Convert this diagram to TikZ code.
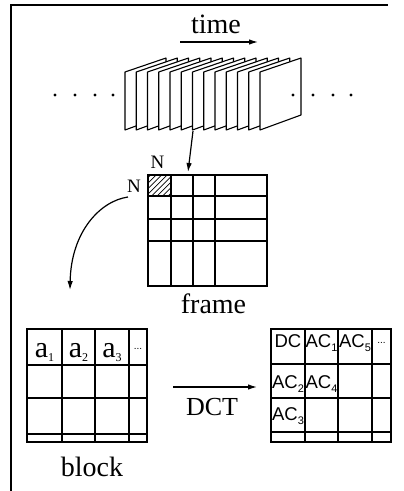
\documentclass[tikz,border=0pt]{standalone}
\usepackage{fontspec}
\setmainfont{Liberation Serif}
\setsansfont{Liberation Sans}
\usetikzlibrary{arrows.meta}
\newcommand{\sersub}[1]{\raisebox{-4pt}{\fontsize{12}{12}\selectfont #1}}
\newcommand{\sanssub}[1]{\raisebox{-4pt}{\fontsize{11}{11}\selectfont #1}}
\begin{document}
\begin{tikzpicture}[x=1pt,y=-1pt,line width=1.2pt,
  lbl/.style={inner sep=0pt,anchor=base,font=\fontsize{28}{28}\selectfont},
  nlbl/.style={inner sep=0pt,anchor=base,font=\fontsize{19}{19}\selectfont},
  albl/.style={inner sep=0pt,anchor=base,font=\fontsize{30}{30}\selectfont},
  slbl/.style={inner sep=0pt,anchor=base,font=\sffamily\fontsize{18.5}{18.5}\selectfont},
  dots/.style={inner sep=0pt,anchor=base,font=\sffamily\fontsize{10}{10}\selectfont},
  arr/.style={-{Latex[length=9pt,width=5.5pt]}},
  framesheet/.style={fill=white,line width=1.1pt,line join=round},
  grid/.style={line width=1.3pt}]
\useasboundingbox (0,0) rectangle (404,491);
% outer border
\draw[line width=1.4pt] (11,491) -- (11,5) -- (388,5);
% time
\node[lbl] (time) at (216,33) {time};
\coordinate (ta) at (180,42);
\coordinate (tb) at (258,42);
\draw[arr] (ta) -- (tb);
% frames
\foreach \i in {0,...,12} {
  \pgfmathsetmacro\xl{125+11.25*\i}
  \draw[framesheet] (\xl,130) -- (\xl,72) -- (\xl+41,58) -- (\xl+41,115) -- cycle;
}
% dots
\foreach \x in {55,75,95,113,293,313,333,351}
  \fill (\x,95) circle (1.6);
% arrow to frame
\coordinate (fb) at (193,131);
\coordinate (ft) at (188,172);
\draw[arr] (fb) -- (ft);
% frame grid
\begin{scope}
\clip (148,175) rectangle (171,196);
\foreach \k in {-28,-22.5,...,28}
  \draw[line width=0.7pt] (148+\k,200) -- (178+\k,170);
\end{scope}
\draw[grid] (148,175) rectangle (267,286);
\foreach \x in {171,193,215} \draw[grid] (\x,175) -- (\x,286);
\foreach \y in {196,219,241} \draw[grid] (148,\y) -- (267,\y);
\node[nlbl] (ntop) at (157.5,168) {N};
\node[nlbl] (nleft) at (134,192) {N};
\node[lbl] (frame) at (213.5,313) {frame};
% curved arrow
\coordinate (c0) at (128,197);
\coordinate (c1) at (70,290);
\draw[arr] (c0) .. controls (100,201) and (71,232) .. (c1);
% block grid
\draw[grid] (27,329) rectangle (147,442);
\foreach \x in {62,95,129} \draw[grid] (\x,329) -- (\x,442);
\foreach \y in {365,398,434} \draw[grid] (27,\y) -- (147,\y);
\node[albl] (a1) at (44.5,357) {a\sersub{1}};
\node[albl] (a2) at (78.5,357) {a\sersub{2}};
\node[albl] (a3) at (112,357) {a\sersub{3}};
\node[dots] (ld) at (138,349) {...};
\node[lbl] (block) at (92,476) {block};
% DCT arrow
\coordinate (d0) at (173,387);
\coordinate (d1) at (257,387);
\draw[arr] (d0) -- (d1);
\node[inner sep=0pt,anchor=base,font=\fontsize{26}{26}\selectfont] (dct) at (212,415) {DCT};
% coefficient grid
\draw[grid] (271,329) rectangle (391,442);
\foreach \x in {305,338,372} \draw[grid] (\x,329) -- (\x,442);
\foreach \y in {364,398,432} \draw[grid] (271,\y) -- (391,\y);
\node[slbl] (dc) at (288,347) {DC};
\node[slbl] (ac1) at (321.5,347) {AC\sanssub{1}};
\node[slbl] (ac5) at (355,347) {AC\sanssub{5}};
\node[dots] (rd) at (381.5,343) {...};
\node[slbl] (ac2) at (288,388) {AC\sanssub{2}};
\node[slbl] (ac4) at (321.5,388) {AC\sanssub{4}};
\node[slbl] (ac3) at (288,420) {AC\sanssub{3}};
\end{tikzpicture}
\end{document}
